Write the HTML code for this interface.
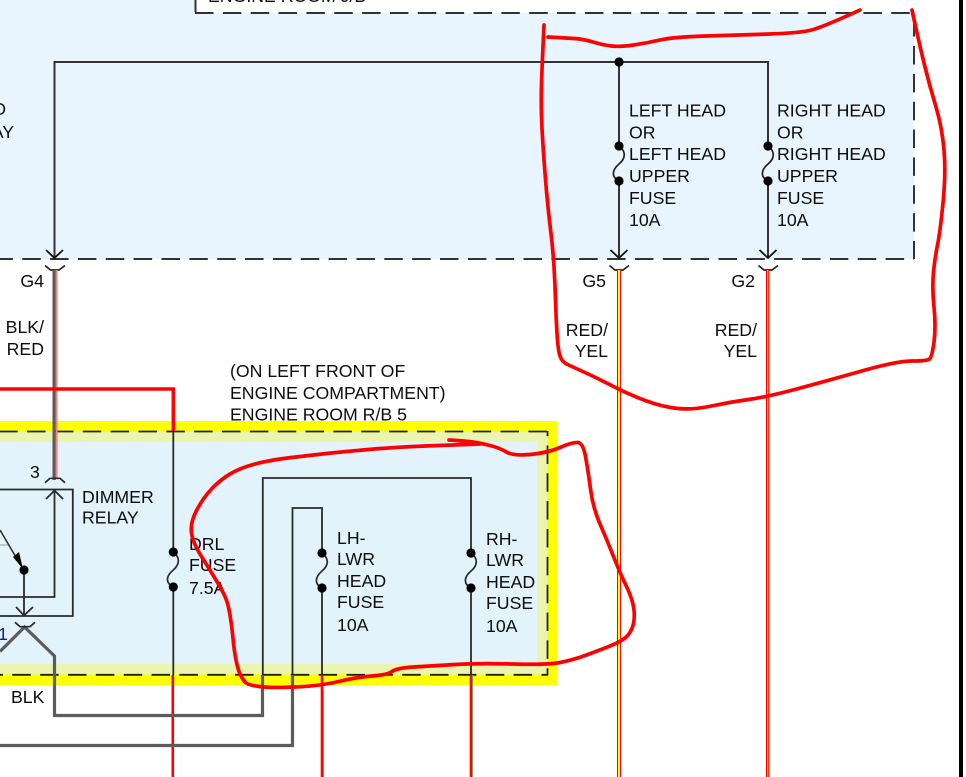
<!DOCTYPE html>
<html><head><meta charset="utf-8"><style>
html,body{margin:0;padding:0;background:#fff;width:966px;height:777px;overflow:hidden}
svg{display:block}
text{font-family:"Liberation Sans",sans-serif;font-size:17.7px;fill:#0c0c0c}
.e{text-anchor:end}
</style></head><body>
<svg width="966" height="777" viewBox="0 0 966 777" xmlns="http://www.w3.org/2000/svg">
<rect width="966" height="777" fill="#fff"/>
<!-- top panel -->
<rect x="0" y="0" width="914" height="259" fill="#e8f5fe"/>
<rect x="195" y="0" width="771" height="13" fill="#fff"/>
<g fill="none" stroke="#333" stroke-width="2">
<path d="M195 13H914" stroke-dasharray="18.500 9.350"/>
<path d="M914 13V259" stroke-dasharray="18.500 9.350" stroke-dashoffset="22.700"/>
<path d="M0 259H914" stroke-dasharray="18.500 9.350" stroke-dashoffset="5.600"/>
<path d="M195.500 0V12"/>
</g>
<text x="208" y="2">ENGINE ROOM J/B</text>
<rect x="959" y="0" width="4" height="777" fill="#000"/>
<!-- yellow panel -->
<rect x="0" y="421" width="557" height="264" fill="#ffff00"/>
<rect x="0" y="432" width="547" height="242.500" fill="#ecf5b0"/>
<rect x="0" y="442" width="537" height="222" fill="#e2f3fc"/>
<g fill="none" stroke="#222" stroke-width="1.800">
<path d="M0 431.500H548" stroke-dasharray="18.500 9.350" stroke-dashoffset="0.800"/>
<path d="M0 674.800H548" stroke-dasharray="18.500 9.350" stroke-dashoffset="15.550"/>
<path d="M547.500 431V675" stroke-dasharray="18.500 9.350" stroke-dashoffset="13.400"/>
</g>
<!-- top wires -->
<g fill="none" stroke="#333" stroke-width="2">
<path d="M54.500 258V62H768V146"/>
<path d="M619 62V146"/>
<path d="M619 181V258M768 181V258"/>
<path stroke="#222" stroke-width="1.700" d="M619 146C627 152 625 159 619 164C612 170 611 177 619 181M768 146C776 152 774 159 768 164C761 170 760 177 768 181"/>
<path stroke="#111" stroke-width="1.800" d="M46 250L54.500 258L63 250M610.500 250L619 258L627.500 250M759.500 250L768 258L776.500 250"/>
<path stroke="#222" stroke-width="1.700" d="M45 265.500L50.500 270H59L65 265.500M609.500 265.500L615 270H623L629 265.500M758.500 265.500L764 270H772L778 265.500"/>
</g>
<g fill="#000"><circle cx="619" cy="62" r="4.600"/><circle cx="619" cy="146" r="4.600"/><circle cx="619" cy="181" r="4.600"/><circle cx="768" cy="146" r="4.600"/><circle cx="768" cy="181" r="4.600"/></g>
<!-- coloured wires below top panel -->
<rect x="52.500" y="270" width="3.300" height="210" fill="#5a5a5a"/>
<rect x="55.800" y="270" width="1.800" height="208" fill="#f98080"/>
<rect x="617" y="270" width="4" height="507" fill="#f00"/>
<rect x="618" y="270" width="2" height="507" fill="#ff0"/>
<rect x="766" y="270" width="3.400" height="507" fill="#f00"/>
<rect x="767" y="270" width="1.300" height="507" fill="#ffc040"/>
<path d="M0 389H173.300V431" stroke="#f00" stroke-width="3.500" fill="none"/>
<path d="M172.800 675V777M322 675V777M471 675V777" stroke="#f00" stroke-width="2.600" fill="none"/>
<path d="M472.500 675V777M323.500 690V777" stroke="#6a9a50" stroke-width=".8" fill="none"/>
<!-- gray wires -->
<path d="M0 651.500L24.500 627L54.500 656V715.500H262.500V675M0 745.500H292.500V675" stroke="#5c5c5c" stroke-width="3.200" fill="none"/>
<!-- yellow panel wires -->
<g fill="none" stroke="#2a2a2a" stroke-width="1.800">
<path d="M173.300 431V552M173.300 587V675"/>
<path d="M262.800 675V478H471V553M471 588V675"/>
<path d="M292.500 675V508H322V553M322 588V675"/>
<path stroke-width="1.700" d="M173.300 552C181 558 179 565 173.300 570C166 576 165 583 173.300 587M322 553C330 559 328 566 322 571C315 577 314 584 322 588M471 553C479 559 477 566 471 571C464 577 463 584 471 588"/>
<path d="M0 489.500H72.800V616H0"/>
<path d="M0 597H54.500V491"/>
<path d="M46 499L54.500 490.500L63 499"/>
<path d="M24 570V615"/>
<path d="M16 607L24 615.500L33 607"/>
<path stroke-width="1.700" d="M45 482.700L50 478.300H60L65 482.700"/>
<path stroke-width="1.700" d="M15 622.300L20 626.700H30L35 622.300"/>
<path stroke-width="1.500" d="M0 530L20 564"/>
<path stroke="#999" stroke-width="1" d="M0 545H8"/>
</g>
<path d="M23 569L13 557L19 552Z" fill="#000"/>
<g fill="#000"><circle cx="173.300" cy="552" r="4.600"/><circle cx="173.300" cy="587" r="4.600"/><circle cx="322" cy="553" r="4.600"/><circle cx="322" cy="588" r="4.600"/><circle cx="471" cy="553" r="4.600"/><circle cx="471" cy="588" r="4.600"/><circle cx="24" cy="570" r="4.600"/></g>
<!-- labels -->
<text class="e" x="6" y="115">D</text>
<text class="e" x="14" y="138">AY</text>
<text x="629" y="116.500">LEFT HEAD</text><text x="629" y="138.500">OR</text><text x="629" y="160">LEFT HEAD</text><text x="629" y="182">UPPER</text><text x="629" y="204">FUSE</text><text x="629" y="226">10A</text>
<text x="777" y="116.500">RIGHT HEAD</text><text x="777" y="138.500">OR</text><text x="777" y="160">RIGHT HEAD</text><text x="777" y="182">UPPER</text><text x="777" y="204">FUSE</text><text x="777" y="226">10A</text>
<text class="e" x="44" y="287">G4</text><text class="e" x="606" y="287">G5</text><text class="e" x="755" y="287">G2</text>
<text class="e" x="44" y="333">BLK/</text><text class="e" x="44" y="355">RED</text>
<text class="e" x="608" y="336">RED/</text><text class="e" x="608" y="357">YEL</text>
<text class="e" x="757" y="336">RED/</text><text class="e" x="757" y="357">YEL</text>
<text x="230" y="377">(ON LEFT FRONT OF</text><text x="230" y="399">ENGINE COMPARTMENT)</text><text x="230" y="420.500">ENGINE ROOM R/B 5</text>
<text x="30" y="478">3</text>
<text x="82" y="503">DIMMER</text><text x="82" y="523.500">RELAY</text>
<text x="189" y="550">DRL</text><text x="189" y="571">FUSE</text><text x="189" y="594">7.5A</text>
<text x="337" y="544">LH-</text><text x="337" y="565">LWR</text><text x="337" y="587">HEAD</text><text x="337" y="608">FUSE</text><text x="337" y="631">10A</text>
<text x="486" y="545">RH-</text><text x="486" y="566">LWR</text><text x="486" y="588">HEAD</text><text x="486" y="609">FUSE</text><text x="486" y="632">10A</text>
<text x="11" y="703">BLK</text>
<text x="-2" y="640" style="fill:#1a1a8c">1</text>
<!-- red ink -->
<g fill="none" stroke="#f00" stroke-width="3.700" stroke-linejoin="round" stroke-linecap="round">
<path d="M544 25Q542 67 541.500 83.500Q541 100 541.500 116.500Q542 133 544.500 166.500Q547 200 550 225Q553 250 554 266.500Q555 283 555.500 300Q556 317 557 333.500Q558 350 560 356Q562 362 567.500 364.500Q573 367 585 372.500Q597 378 613.500 386.500Q630 395 646.500 401Q663 407 678 408.500Q693 410 711.500 406Q730 402 748.500 399.500Q767 397 798.500 388.500Q830 380 863.500 370.500Q897 361 912 361Q927 361 929.500 359Q932 357 934 342Q936 327 934 307Q932 287 933.500 272Q935 257 937.500 245Q940 233 943 203Q946 173 944 150Q942 127 936 107Q930 87 925 67Q920 47 912 10"/>
<path d="M548 37Q565 38 574 38.500Q583 39 593 42Q603 45 611.500 46Q620 47 633.500 45Q647 43 660 40Q673 37 706.500 36Q740 35 770 34Q800 33 811.500 30Q823 27 860 10"/>
<path d="M449 440Q465 441 472.500 442Q480 443 490 445.500Q500 448 506.500 452Q513 456 530 454.500Q547 453 560 447.500Q573 442 578 442.500Q583 443 585.500 456.500Q588 470 590.500 489Q593 508 600 524Q607 540 613.500 556.500Q620 573 626.500 586.500Q633 600 634 610Q635 620 632.500 627Q630 634 625 638Q620 642 610 646Q600 650 586.500 655Q573 660 560 662.500Q547 665 513.500 664Q480 663 455 664.500Q430 666 413.500 667Q397 668 392 671.500Q387 675 372 676Q357 677 338.500 681.500Q320 686 295 687Q270 688 259 686.500Q248 685 245.500 682.500Q243 680 240.500 675Q238 670 236 660Q234 650 233 638.500Q232 627 230 615Q228 603 225 596.500Q222 590 216 580Q210 570 201.500 556.500Q193 543 191.500 533Q190 523 196.500 510.500Q203 498 211.500 489Q220 480 230 474Q240 468 255 464Q270 460 291.500 457.500Q313 455 326.500 453.500Q340 452 368.500 449.500Q397 447 425 446Q453 445 480 444"/>
</g>
</svg>
</body></html>
